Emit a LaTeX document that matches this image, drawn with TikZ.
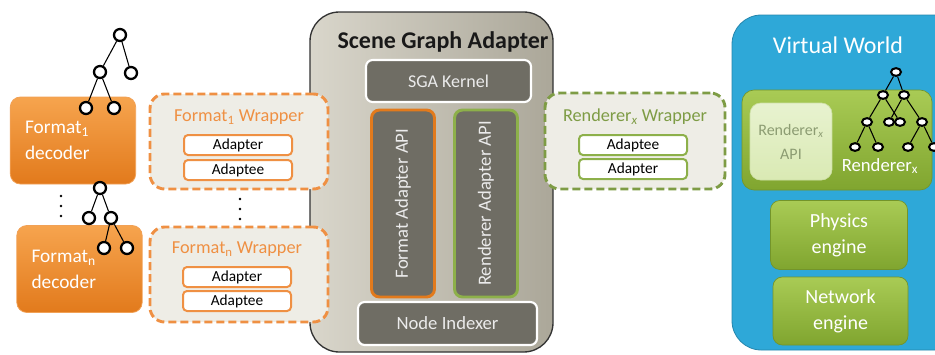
\documentclass[tikz,border=0pt]{standalone}
\usepackage{fontspec}
\setmainfont{Carlito}
\usetikzlibrary{shapes.geometric}

\definecolor{decorange}{HTML}{EE8A2C}
\definecolor{dectop}{HTML}{F6A44E}
\definecolor{decbot}{HTML}{E27A1C}
\definecolor{wraporange}{HTML}{EF9043}
\definecolor{wrapfill}{HTML}{EEEDE6}
\definecolor{wrapgreen}{HTML}{7E9C45}
\definecolor{boxgreen}{HTML}{8DB04A}
\definecolor{sgalight}{HTML}{D9D6CB}
\definecolor{sgadark}{HTML}{ABA799}
\definecolor{sgainner}{HTML}{6F6D64}
\definecolor{vwblue}{HTML}{2EA8D8}
\definecolor{greentop}{HTML}{A9CB55}
\definecolor{greenbot}{HTML}{80A52F}
\definecolor{apilight}{HTML}{E2EFC4}
\definecolor{apitext}{HTML}{8C9C72}

\begin{document}
\begin{tikzpicture}[x=0.75pt,y=0.75pt,yscale=-1,xscale=1,
  dec/.style={draw=decorange!80!white,line width=0.6pt,top color=dectop,bottom color=decbot,
    rounded corners=7.5pt,inner xsep=11pt,text width=72pt,align=left,minimum height=65.25pt,
    text=white,font=\fontsize{14.5}{19.5}\selectfont},
  wrapbox/.style={draw=wraporange,fill=wrapfill,line width=2.2pt,dash pattern={on 6pt off 3pt},
    rounded corners=11pt,minimum width=133.5pt,minimum height=71.25pt},
  adbox/.style={draw=wraporange,fill=white,line width=1.5pt,rounded corners=3pt,
    minimum width=81pt,minimum height=15pt,inner sep=0pt,font=\fontsize{11.5}{13}\selectfont},
  sgabox/.style={draw=black!80,line width=1pt,left color=sgalight,right color=sgadark,rounded corners=22pt,
    minimum width=182.25pt,minimum height=255pt},
  darkbox/.style={draw=white,fill=sgainner,line width=1.6pt,rounded corners=5pt,
    text=white!92!black,font=\fontsize{13.5}{15}\selectfont},
  apibox/.style={fill=sgainner,line width=2.2pt,rounded corners=6pt,rotate=90,
    minimum width=140.25pt,minimum height=47.25pt,text=white!92!black,font=\fontsize{14}{16}\selectfont},
  greenbox/.style={draw=greenbot!90!black,line width=0.5pt,top color=greentop,bottom color=greenbot,
    rounded corners=7pt,text=white,align=center,font=\fontsize{15}{19.5}\selectfont},
  tnode/.style={circle,draw=black,line width=1.7pt,fill=white,inner sep=0pt,minimum size=9pt},
  tleaf/.style={ellipse,draw=black,line width=1.5pt,fill=white,inner sep=0pt,minimum width=7.5pt,minimum height=5.8pt},
  tedge/.style={line width=0.8pt}]

\useasboundingbox (0,0) rectangle (935,354);
\clip (0,0) rectangle (935,354);

%Scene Graph Adapter
\node[sgabox] (sga) at (431.5,182) {};
\node[font=\fontsize{18}{20}\selectfont\bfseries,text=black!90] (sgatitle) at (443,42) {Scene Graph Adapter};
\node[darkbox,minimum width=123.75pt,minimum height=31.5pt] (kernel) at (448.5,81) {SGA Kernel};
\node[apibox,draw=decbot] (fapi) at (403,203.5) {Format Adapter API};
\node[apibox,draw=boxgreen] (rapi) at (486,203.5) {Renderer Adapter API};
\node[darkbox,minimum width=134.25pt,minimum height=32.25pt,font=\fontsize{14}{16}\selectfont] (indexer) at (447.5,323.5) {Node Indexer};

%Format wrappers
\node[wrapbox] (wrap1) at (239,141.5) {};
\node[text=wraporange,font=\fontsize{13.7}{16}\selectfont] (wrap1title) at (239,117) {Format\textsubscript{1} Wrapper};
\node[adbox] (adapter1) at (238,145) {Adapter};
\node[adbox] (adaptee1) at (238,170) {Adaptee};

\node[wrapbox] (wrapn) at (239,274.5) {};
\node[text=wraporange,font=\fontsize{13.7}{16}\selectfont] (wrapntitle) at (237,249) {Format\textsubscript{n} Wrapper};
\node[adbox] (adaptern) at (237,277) {Adapter};
\node[adbox] (adapteen) at (237,301) {Adaptee};

\foreach \y in {199,209,219} \fill (240,\y) circle (1pt);

%Renderer wrapper
\node[wrapbox,draw=wrapgreen,minimum width=135pt,minimum height=72pt] (wrapr) at (635,141) {};
\node[text=wrapgreen,font=\fontsize{13.7}{16}\selectfont] (wraprtitle) at (635,117) {Renderer\textsubscript{\itshape x} Wrapper};
\node[adbox,draw=boxgreen] (adapteer) at (633,145) {Adaptee};
\node[adbox,draw=boxgreen] (adapterr) at (633,169) {Adapter};

%Decoders
\node[dec] (dec1) at (73,140.5) {Format\textsubscript{1}\\decoder};
\node[dec] (decn) at (79.5,269) {Format\textsubscript{n}\\decoder};

\foreach \y in {196,206,216} \fill (61,\y) circle (1pt);

%Scene graph of format 1
\node[tnode] (t1r) at (120,35) {};
\node[tnode] (t1a) at (100,72) {};
\node[tnode] (t1b) at (131,73) {};
\node[tnode] (t1c) at (86,108) {};
\node[tnode] (t1d) at (114,108) {};
\draw[tedge] (t1r) -- (t1a);
\draw[tedge] (t1r) -- (t1b);
\draw[tedge] (t1a) -- (t1c);
\draw[tedge] (t1a) -- (t1d);

%Scene graph of format n
\node[tnode] (t2r) at (100,188) {};
\node[tnode] (t2a) at (89,218) {};
\node[tnode] (t2b) at (111,218) {};
\node[tnode] (t2c) at (104,248) {};
\node[tnode] (t2d) at (127,248) {};
\draw[tedge] (t2r) -- (t2a);
\draw[tedge] (t2r) -- (t2b);
\draw[tedge] (t2b) -- (t2c);
\draw[tedge] (t2b) -- (t2d);

%Virtual World
\node[draw=vwblue!80!black,line width=0.6pt,fill=vwblue,rounded corners=22pt,
  minimum width=193.5pt,minimum height=251.25pt] (vw) at (861,182.5) {};
\node[text=white,font=\fontsize{18}{21}\selectfont] (vwtitle) at (838,45) {Virtual World};
\node[greenbox,rounded corners=9pt,minimum width=142.5pt,minimum height=75pt] (rend) at (837,140) {};
\node[draw=apilight!80!greenbot,line width=0.5pt,top color=apilight!80!white,bottom color=apilight!85!greentop,
  rounded corners=8pt,minimum width=61.5pt,minimum height=57.75pt,align=center,text=apitext,
  font=\fontsize{12}{18}\selectfont] (rapix) at (791,141.5) {Renderer\textsubscript{\itshape x}\\API};
\node[text=white,font=\fontsize{14}{16}\selectfont] (rendlabel) at (880,166) {Renderer\textsubscript{x}};
\node[greenbox,minimum width=102.75pt,minimum height=51.75pt] (physics) at (839,235) {Physics\\engine};
\node[greenbox,minimum width=101.25pt,minimum height=51pt] (network) at (840.5,311) {Network\\engine};

%Scene graph of renderer
\node[tleaf] (vr) at (896,72) {};
\node[tleaf] (vp) at (883,95) {};
\node[tleaf] (vq) at (904,95) {};
\node[tleaf] (vs1) at (867,122) {};
\node[tleaf] (vs2) at (889,122) {};
\node[tleaf] (vs3) at (900,122) {};
\node[tleaf] (vs4) at (922,122) {};
\node[tleaf] (vl1) at (855,147) {};
\node[tleaf] (vl2) at (878,147) {};
\node[tleaf] (vl3) at (908,147) {};
\node[tleaf] (vl4) at (934,147) {};
\draw[tedge] (vr) -- (vp);
\draw[tedge] (vr) -- (vq);
\draw[tedge] (vp) -- (vs1);
\draw[tedge] (vp) -- (vs3);
\draw[tedge] (vq) -- (vs2);
\draw[tedge] (vq) -- (vs4);
\draw[tedge] (vs1) -- (vl1);
\draw[tedge] (vs1) -- (vl2);
\draw[tedge] (vs4) -- (vl3);
\draw[tedge] (vs4) -- (vl4);

\end{tikzpicture}
\end{document}
